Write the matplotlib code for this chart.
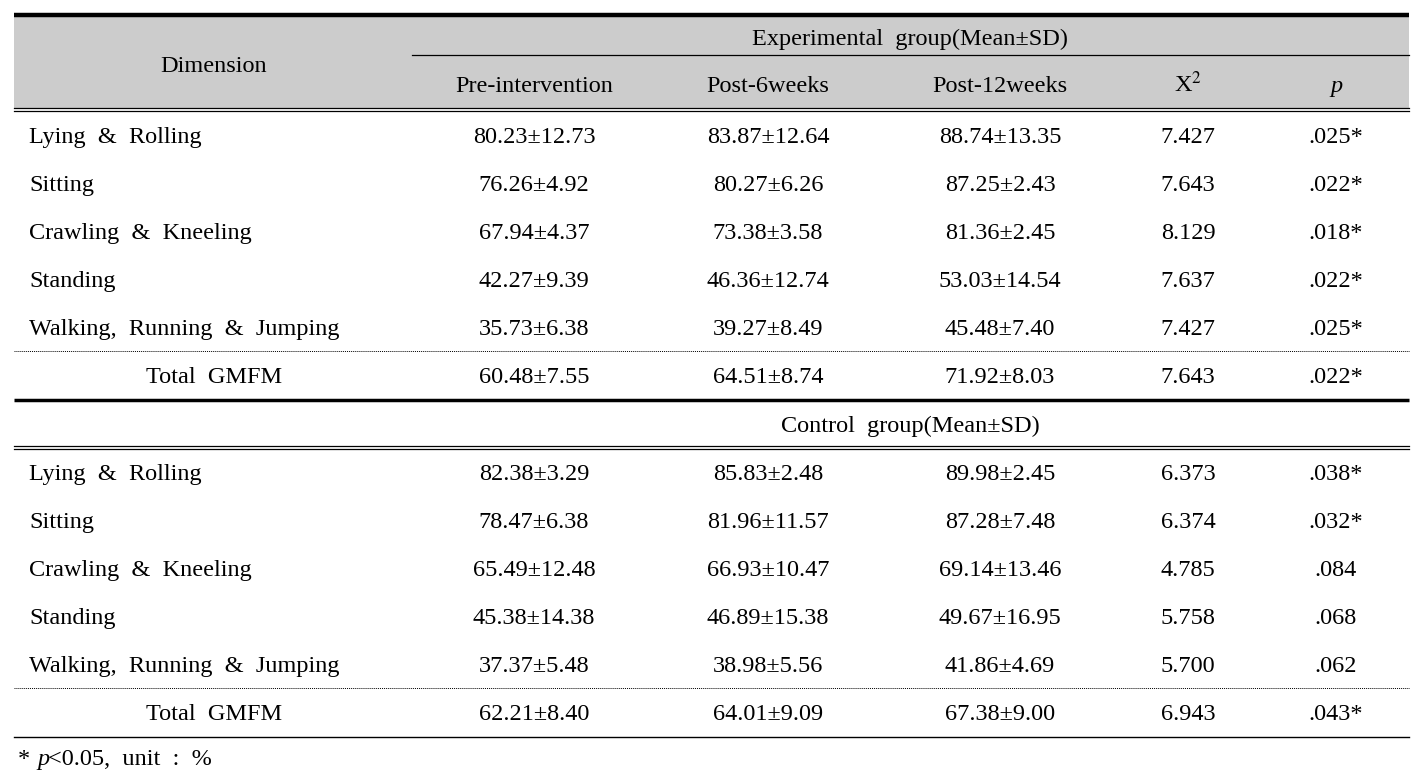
import matplotlib
matplotlib.use("Agg")
import matplotlib.pyplot as plt
from matplotlib.patches import Rectangle

plt.rcParams['font.family'] = ['Liberation Serif', 'DejaVu Serif']

dimensions = ["Lying  &  Rolling", "Sitting", "Crawling  &  Kneeling", "Standing",
              "Walking,  Running  &  Jumping"]
total_label = "Total  GMFM"
col_headers = ["Pre-intervention", "Post-6weeks", "Post-12weeks"]

exp_pre = ["80.23±12.73", "76.26±4.92", "67.94±4.37", "42.27±9.39", "35.73±6.38", "60.48±7.55"]
exp_6w = ["83.87±12.64", "80.27±6.26", "73.38±3.58", "46.36±12.74", "39.27±8.49", "64.51±8.74"]
exp_12w = ["88.74±13.35", "87.25±2.43", "81.36±2.45", "53.03±14.54", "45.48±7.40", "71.92±8.03"]
exp_chi = ["7.427", "7.643", "8.129", "7.637", "7.427", "7.643"]
exp_p = [".025*", ".022*", ".018*", ".022*", ".025*", ".022*"]

ctl_pre = ["82.38±3.29", "78.47±6.38", "65.49±12.48", "45.38±14.38", "37.37±5.48", "62.21±8.40"]
ctl_6w = ["85.83±2.48", "81.96±11.57", "66.93±10.47", "46.89±15.38", "38.98±5.56", "64.01±9.09"]
ctl_12w = ["89.98±2.45", "87.28±7.48", "69.14±13.46", "49.67±16.95", "41.86±4.69", "67.38±9.00"]
ctl_chi = ["6.373", "6.374", "4.785", "5.758", "5.700", "6.943"]
ctl_p = [".038*", ".032*", ".084", ".068", ".062", ".043*"]

W, H = 1419, 780
fig = plt.figure(figsize=(W / 100, H / 100), dpi=100)
ax = fig.add_axes([0, 0, 1, 1])
ax.set_xlim(0, W)
ax.set_ylim(H, 0)
ax.axis('off')

L, R = 14, 1409
FS = 17.5
col_x = [534, 768, 1000, 1188, 1336]
label_x = 29
dim_center = 214
OFF = 8  # baseline offset from visual center

# header background
ax.add_patch(Rectangle((L, 16), R - L, 93, facecolor='#cccccc', edgecolor='none'))
# lines
ax.plot([L, R], [15, 15], color='black', lw=3.2, solid_capstyle='butt')
ax.plot([412, R], [55, 55], color='black', lw=0.9)
for y in (108, 111):
    ax.plot([L, R], [y, y], color='black', lw=0.9)
ax.plot([L, R], [351, 351], color='black', lw=0.7, linestyle=(0, (1, 1)))
ax.plot([L, R], [400, 400], color='black', lw=2.5, solid_capstyle='butt')
for y in (446, 449):
    ax.plot([L, R], [y, y], color='black', lw=0.9)
ax.plot([L, R], [688, 688], color='black', lw=0.7, linestyle=(0, (1, 1)))
ax.plot([L, R], [737, 737], color='black', lw=1.0)

kw = dict(fontsize=FS, va='baseline')
ax.text(dim_center, 64 + OFF, "Dimension", ha='center', **kw)
ax.text(910, 37 + OFF, "Experimental  group(Mean±SD)", ha='center', **kw)
for x, h in zip(col_x[:3], col_headers):
    ax.text(x, 84 + OFF, h, ha='center', **kw)
ax.text(col_x[3], 84 + OFF, r"X$^{2}$", ha='center', math_fontfamily='stix', **kw)
ax.text(col_x[4], 84 + OFF, "p", ha='center', style='italic', **kw)

def draw_block(y0, cols):
    ys = [y0 + 48 * i + OFF for i in range(6)]
    for i, y in enumerate(ys):
        if i < 5:
            ax.text(label_x, y, dimensions[i], ha='left', **kw)
        else:
            ax.text(dim_center, y, total_label, ha='center', **kw)
        for x, c in zip(col_x, cols):
            ax.text(x, y, c[i], ha='center', **kw)

draw_block(135, [exp_pre, exp_6w, exp_12w, exp_chi, exp_p])
ax.text(910, 424 + OFF, "Control  group(Mean±SD)", ha='center', **kw)
draw_block(472, [ctl_pre, ctl_6w, ctl_12w, ctl_chi, ctl_p])

ax.text(18, 757 + OFF, "*", ha='left', **kw)
ax.text(37, 757 + OFF, "p", ha='left', style='italic', **kw)
ax.text(48, 757 + OFF, "<0.05,  unit  :  %", ha='left', **kw)

fig.savefig("out.png", dpi=100)
